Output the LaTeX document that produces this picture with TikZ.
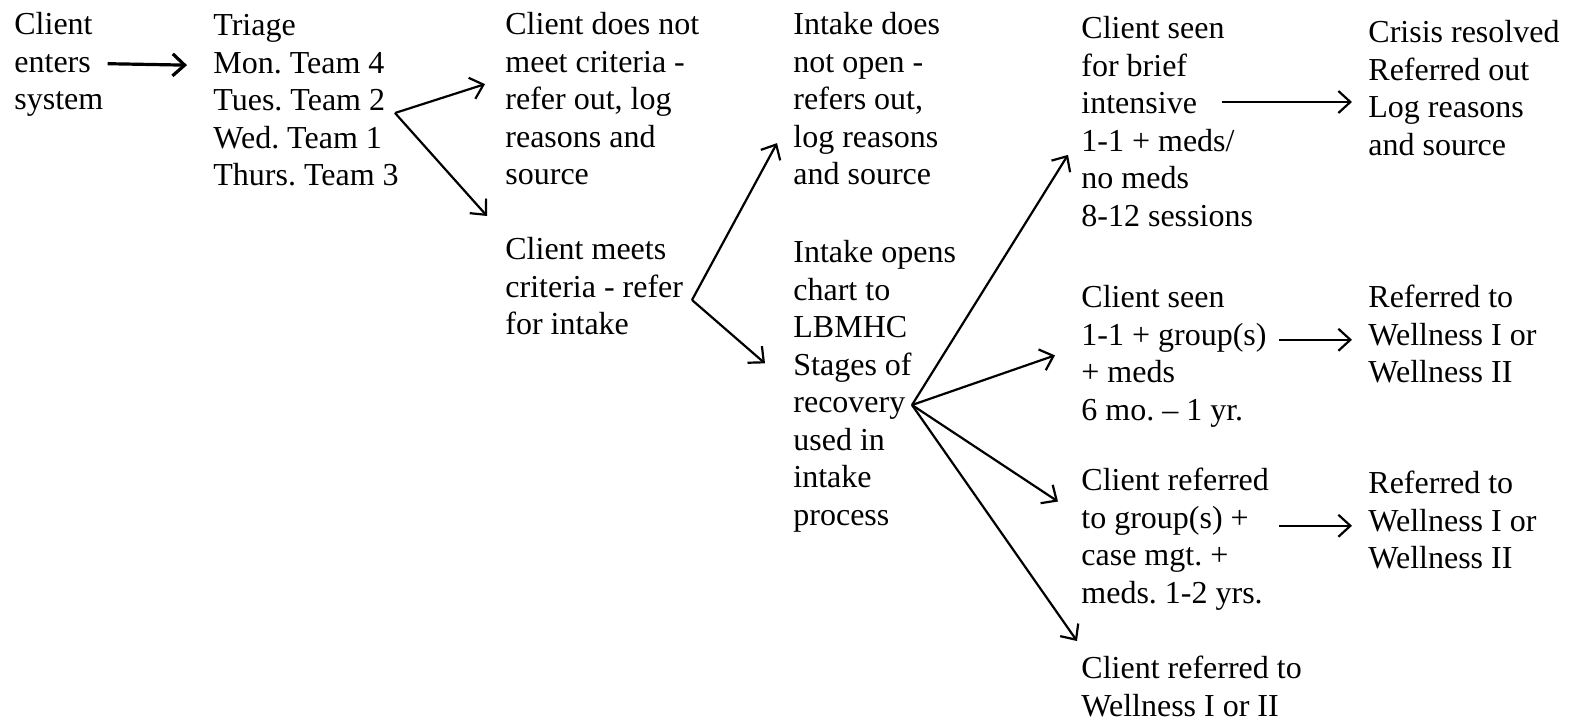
\documentclass[tikz,border=0pt]{standalone}
\usepackage{fontspec}
\setmainfont{Liberation Serif}
\usetikzlibrary{arrows.meta,calc,positioning}
\frenchspacing

\begin{document}
\begin{tikzpicture}[x=0.5pt,y=-0.5pt,
    every node/.style={font=\fontsize{16pt}{18.75pt}\selectfont},
    txt/.style={anchor=north west,align=left,inner sep=0pt,execute at begin node=\strut},
    flow/.style={line width=1.1pt,-{Straight Barb[length=6pt,width=11pt]}}]

    \useasboundingbox (0,0) rectangle (1570,722);

    % text blocks
    \node[txt] (enter) at (14,12) {Client\\enters\\system};
    \node[txt] (triage) at (213,14) {Triage\\Mon. Team 4\\Tues. Team 2\\Wed. Team 1\\Thurs. Team 3};

    \node[txt] (nomeet) at (505,12) {Client does not\\meet criteria -\\refer out, log\\reasons and\\source};
    \node[txt] (meets) at (505,237) {Client meets\\criteria - refer\\for intake};

    \node[txt] (noopen) at (793,12) {Intake does\\not open -\\refers out,\\log reasons\\and source};
    \node[txt] (opens) at (793,240) {Intake opens\\chart to\\LBMHC\\Stages of\\recovery\\used in\\intake\\process};

    \node[txt] (brief) at (1081,16) {Client seen\\for brief\\intensive\\1-1 + meds/\\no meds\\8-12 sessions};
    \node[txt] (crisis) at (1368,20) {Crisis resolved\\Referred out\\Log reasons\\and source};

    \node[txt] (group) at (1081,285) {Client seen\\1-1 + group(s)\\+ meds\\6 mo. -- 1 yr.};
    \node[txt] (wellA) at (1368,285) {Referred to\\Wellness I or\\Wellness II};

    \node[txt] (casemgt) at (1081,468) {Client referred\\to group(s) +\\case mgt. +\\meds. 1-2 yrs.};
    \node[txt] (wellB) at (1368,471) {Referred to\\Wellness I or\\Wellness II};

    \node[txt] (wellC) at (1081,656) {Client referred to\\Wellness I or II};

    % fork points
    \coordinate (tues) at (395,113);
    \coordinate (mfork) at (692,300);
    \coordinate (ofork) at (912,405);
    \coordinate (intensive) at (1222,102);

    % arrows
    \draw[flow,line width=1.6pt,shorten <=2pt,shorten >=13pt] ($(enter.east)+(0,-3)$) -- ($(enter.east -| triage.west)+(0,-1)$);

    \draw[flow] (tues) -- ($(nomeet.west)+(-20,-20)$);
    \draw[flow] (tues) -- ($(meets.north west)+(-18,-21)$);

    \draw[flow] (mfork) -- ($(noopen.west)+(-16,39)$);
    \draw[flow] (mfork) -- ($(opens.west)+(-28,-25)$);

    \draw[flow] (ofork) -- ($(brief.west)+(-13,28)$);
    \draw[flow] (ofork) -- ($(group.west)+(-26,-3)$);
    \draw[flow] (ofork) -- ($(casemgt.west)+(-23,-40)$);
    \draw[flow] (ofork) -- ($(wellC.north west)+(-4,-15)$);

    \draw[flow,shorten >=8pt] (intensive) -- (intensive -| crisis.west);
    \draw[flow,shorten >=8pt] ($(group.east |- wellA.west)+(12,0)$) -- (wellA.west);
    \draw[flow,shorten >=8pt] ($(casemgt.east |- wellB.west)+(10,0)$) -- (wellB.west);
\end{tikzpicture}
\end{document}
